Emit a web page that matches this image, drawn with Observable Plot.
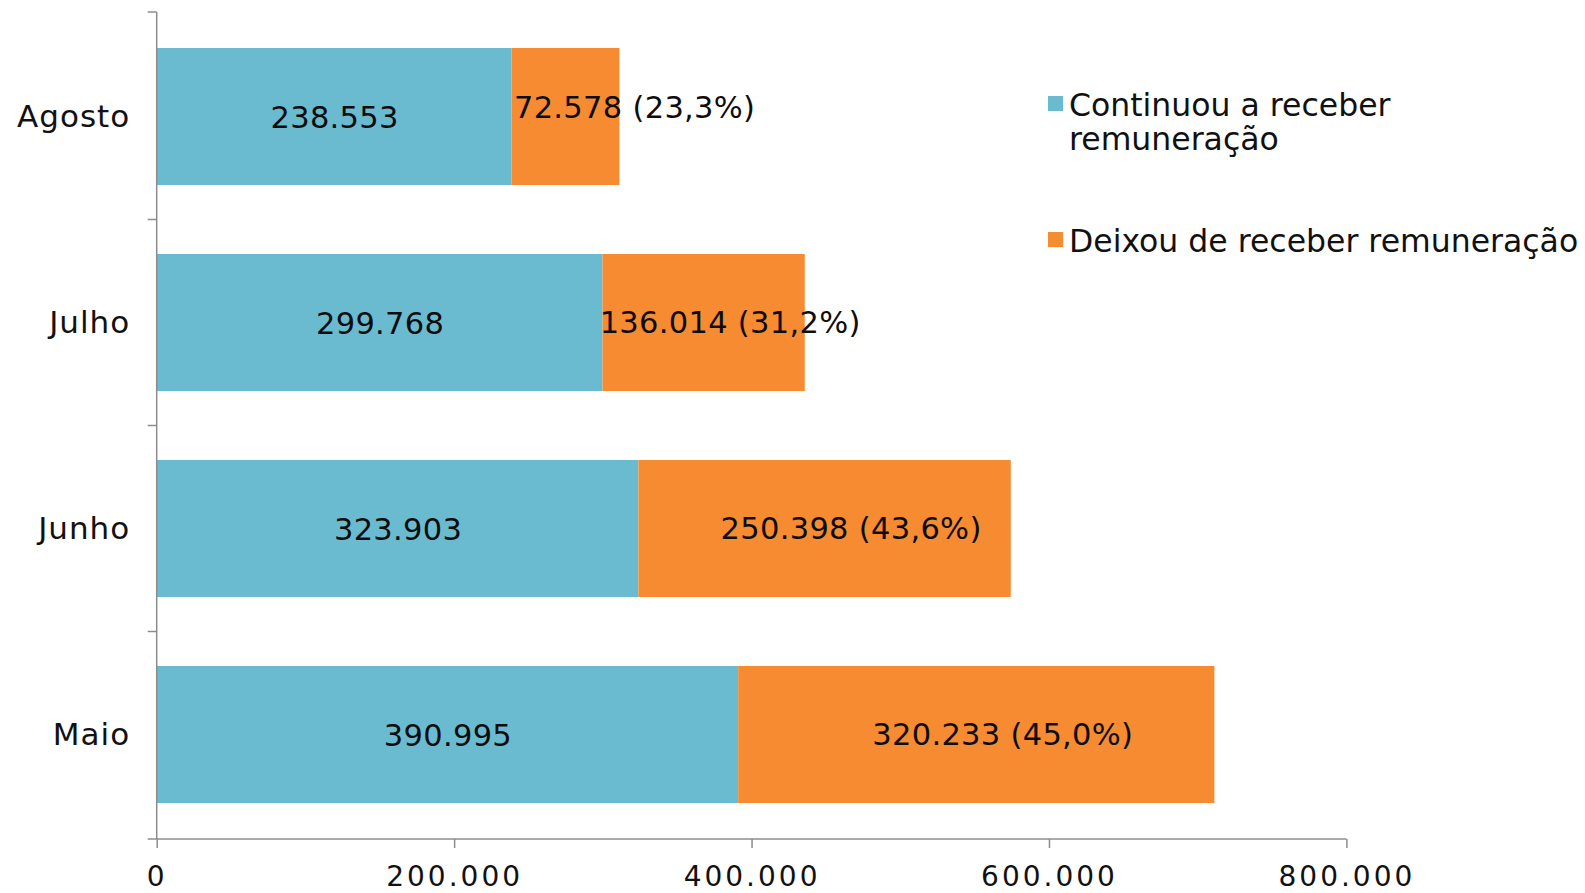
<!DOCTYPE html>
<html>
<head>
<meta charset="utf-8">
<script src="https://cdn.jsdelivr.net/npm/d3@7"></script>
<script src="https://cdn.jsdelivr.net/npm/@observablehq/plot@0.6"></script>
<style>
  html, body { margin: 0; padding: 0; background: #fff; overflow: hidden; }
  #wrap { position: relative; width: 1585px; height: 893px; font-family: "DejaVu Sans", sans-serif; color: #111; }
  #wrap svg { position: absolute; left: 0; top: 0; }
  [aria-label="y-axis tick label"] text { letter-spacing: 1px; }
  [aria-label="x-axis tick label"] text { letter-spacing: 3px; }
  [aria-label="text"] text { letter-spacing: 0.3px; }
  .leg { position: absolute; font-size: 31.5px; line-height: 34px; color: #111; white-space: nowrap; }
  .sw { position: absolute; width: 15px; height: 15px; }
</style>
</head>
<body>
<div id="wrap"></div>
<script>
// ---- data ----
const months = ["Agosto", "Julho", "Junho", "Maio"];
const seriesNames = ["Continuou a receber remuneração", "Deixou de receber remuneração"];
const continuou = [238553, 299768, 323903, 390995];
const deixou = [72578, 136014, 250398, 320233];
const deixouPct = [23.3, 31.2, 43.6, 45.0];
const xTicks = [0, 200000, 400000, 600000, 800000];
const colors = ["#6BBBD0", "#F68B31"];

const loc = d3.formatLocale({decimal: ",", thousands: ".", grouping: [3], currency: ["R$", ""]});
const fmtInt = loc.format(",d");
const fmtPct = loc.format(".1f");

const rows = [];
months.forEach((m, i) => {
  rows.push({month: m, serie: seriesNames[0], value: continuou[i]});
  rows.push({month: m, serie: seriesNames[1], value: deixou[i]});
});
const labelRows = months.map((m, i) => ({
  month: m, c: continuou[i], d: deixou[i],
  cText: fmtInt(continuou[i]),
  dText: `${fmtInt(deixou[i])} (${fmtPct(deixouPct[i])}%)`
}));

const axisColor = "#8c8c8c";

function axisLines(index, scales, values, dimensions) {
  const x = scales.x, y = scales.y;
  const g = d3.create("svg:g").attr("stroke", axisColor).attr("stroke-width", 1.5).attr("fill", "none");
  const x0 = x(0), x1 = x(xTicks[xTicks.length - 1]);
  const yr = y.range();
  const top = Math.min(...yr), bottom = Math.max(...yr);
  const bw = y.bandwidth(), step = y.step();
  const bounds = [top];
  y.domain().forEach(d => bounds.push(y(d) + bw + (step - bw) / 2));
  bounds[bounds.length - 1] = bottom;
  g.append("line").attr("x1", x0).attr("x2", x0).attr("y1", top).attr("y2", bottom);
  g.append("line").attr("x1", x0).attr("x2", x1).attr("y1", bottom).attr("y2", bottom);
  bounds.forEach(b => g.append("line").attr("x1", x0 - 9).attr("x2", x0).attr("y1", b).attr("y2", b));
  return g.node();
}

const labelFont = 30.5;
const chart = Plot.plot({
  width: 1585,
  height: 893,
  marginLeft: 156.7,
  marginRight: 238.6,
  marginTop: 12,
  marginBottom: 54,
  style: {fontFamily: "DejaVu Sans, sans-serif", color: "#111", background: "transparent"},
  x: {domain: [0, 800000]},
  y: {domain: months, paddingInner: 0.335, paddingOuter: 0.1675},
  color: {domain: seriesNames, range: colors},
  marks: [
    Plot.barX(rows, Plot.stackX({x: "value", y: "month", fill: "serie", order: null})),
    Plot.text(labelRows, {x: d => d.c / 2, y: "month", text: "cText", fontSize: labelFont, fill: "#0d0d0d", dy: 1}),
    Plot.text(labelRows.filter(d => d.d >= 100000), {x: d => d.c + d.d / 2, y: "month", text: "dText", fontSize: labelFont, fill: "#0d0d0d", dx: 26}),
    Plot.text(labelRows.filter(d => d.d < 100000), {x: "c", y: "month", text: "dText", fontSize: labelFont, fill: "#0d0d0d", textAnchor: "start", dx: 2, dy: -9}),
    Plot.axisY({tickSize: 0, tickPadding: 27, fontSize: 31, label: null, fill: "#111"}),
    Plot.axisX({ticks: xTicks, tickFormat: fmtInt, tickSize: 9, tickPadding: 18, fontSize: 28, label: null, stroke: axisColor, strokeWidth: 1.5, fill: "#111"}),
    axisLines
  ]
});

const wrap = document.getElementById("wrap");
wrap.appendChild(chart);

// legend (HTML, outside the plot frame)
const legendItems = [
  {html: "Continuou a receber<br>remuneração", color: colors[0], sqTop: 96, txtTop: 88},
  {html: "Deixou de receber remuneração", color: colors[1], sqTop: 232, txtTop: 224}
];
legendItems.forEach(it => {
  const sw = document.createElement("div");
  sw.className = "sw";
  sw.style.left = "1047.5px";
  sw.style.top = it.sqTop + "px";
  sw.style.background = it.color;
  wrap.appendChild(sw);
  const t = document.createElement("div");
  t.className = "leg";
  t.style.left = "1069px";
  t.style.top = it.txtTop + "px";
  t.innerHTML = it.html;
  wrap.appendChild(t);
});
</script>
</body>
</html>
